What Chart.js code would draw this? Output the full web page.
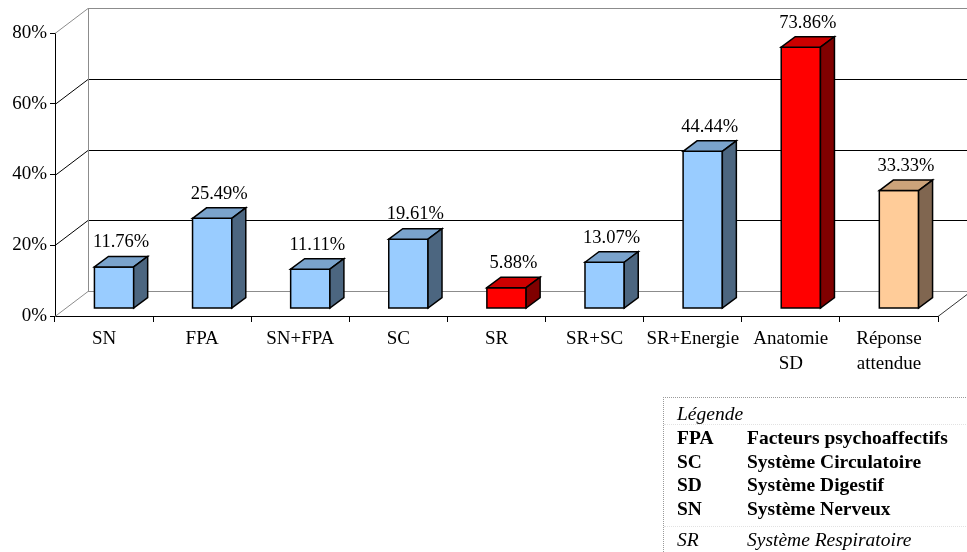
<!DOCTYPE html>
<html>
<head>
  <meta charset="utf-8">
  <title>Réponses par catégorie</title>
  <script src="https://cdn.jsdelivr.net/npm/chart.js"></script>
  <style>
    body { margin: 0; background: #fff; }
    .wrap { position: relative; width: 967px; height: 552px; overflow: hidden; }
    .legend {
      position: absolute; left: 663px; top: 397px; width: 330px; height: 170px;
      border-left: 1px dotted #9a9a9a; border-top: 1px dotted #9a9a9a;
      font-family: "Liberation Serif", "Times New Roman", serif; font-size: 19.5px; color: #000;
    }
    .legend div { position: absolute; height: 24px; line-height: 24px; white-space: nowrap; }
    .legend .b { font-weight: bold; }
    .legend .i { font-style: italic; }
    .legend .sep { height: 0; border-top: 1px dotted #e2e2e2; left: 0; width: 330px; }
  </style>
</head>
<body>
  <div class="wrap">
    <canvas id="chart"></canvas>
    <div class="legend">
      <div class="i" style="left:13px;top:4px">Légende</div>
      <div class="sep" style="top:26px"></div>
      <div class="b" style="left:13px;top:27.5px">FPA</div>
      <div class="b" style="left:83px;top:27.5px">Facteurs psychoaffectifs</div>
      <div class="b" style="left:13px;top:51.5px">SC</div>
      <div class="b" style="left:83px;top:51.5px">Système Circulatoire</div>
      <div class="b" style="left:13px;top:75px">SD</div>
      <div class="b" style="left:83px;top:75px">Système Digestif</div>
      <div class="b" style="left:13px;top:98.5px">SN</div>
      <div class="b" style="left:83px;top:98.5px">Système Nerveux</div>
      <div class="sep" style="top:128px"></div>
      <div class="i" style="left:13px;top:130px">SR</div>
      <div class="i" style="left:83px;top:130px">Système Respiratoire</div>
    </div>
  </div>

  <script>
    // data
    const categories = ['SN', 'FPA', 'SN+FPA', 'SC', 'SR', 'SR+SC', 'SR+Energie', ['Anatomie', 'SD'], ['Réponse', 'attendue']];
    const percentages = [11.76, 25.49, 11.11, 19.61, 5.88, 13.07, 44.44, 73.86, 33.33];
    const yTicks = [0, 20, 40, 60, 80];

    // front / top / side colours of each bar
    const blue = ['#99CCFF', '#7AA3CC', '#4C6680'];
    const red = ['#FF0000', '#CC0000', '#800000'];
    const peach = ['#FFCC99', '#CCA37A', '#806650'];
    const barColors = [blue, blue, blue, blue, red, blue, blue, red, peach];

    const FONT = '"Liberation Serif", "Times New Roman", serif';

    // 3d look: offset of the back wall, and of the bars inside the depth
    const WALL_DX = 33, WALL_DY = -25;
    const BAR_DX = 10, BAR_DY = -7.5;
    const DEPTH_DX = 14, DEPTH_DY = -10.5;

    function line(ctx, x1, y1, x2, y2, color) {
      ctx.strokeStyle = color;
      ctx.beginPath();
      ctx.moveTo(x1, y1);
      ctx.lineTo(x2, y2);
      ctx.stroke();
    }

    const wallPlugin = {
      id: 'wall',
      beforeDatasetsDraw(chart) {
        const ctx = chart.ctx;
        const area = chart.chartArea;
        const y = chart.scales.y;
        ctx.save();
        ctx.lineWidth = 1;
        yTicks.forEach((v) => {
          const py = Math.round(y.getPixelForValue(v)) + 0.5;
          const edge = (v === yTicks[0] || v === yTicks[yTicks.length - 1]);
          const col = edge ? '#8c8c8c' : '#000';
          // side wall diagonal
          line(ctx, area.left, py, area.left + WALL_DX, py + WALL_DY, col);
          // back wall line
          line(ctx, area.left + WALL_DX, py + WALL_DY, area.right + WALL_DX, py + WALL_DY, col);
        });
        const top = Math.round(y.getPixelForValue(yTicks[yTicks.length - 1])) + 0.5;
        const bottom = Math.round(y.getPixelForValue(0)) + 0.5;
        line(ctx, area.left + WALL_DX + 0.5, top + WALL_DY, area.left + WALL_DX + 0.5, bottom + WALL_DY, '#8c8c8c');
        // right edge of the floor
        line(ctx, area.right, bottom, area.right + WALL_DX, bottom + WALL_DY, '#333');
        ctx.restore();
      }
    };

    const boxPlugin = {
      id: 'boxes',
      afterDatasetsDraw(chart) {
        const ctx = chart.ctx;
        const meta = chart.getDatasetMeta(0);
        ctx.save();
        ctx.lineWidth = 1.5;
        ctx.strokeStyle = '#000';
        ctx.lineJoin = 'miter';
        meta.data.forEach((el, i) => {
          const p = el.getProps(['x', 'y', 'base', 'width'], true);
          const c = barColors[i];
          const x1 = p.x - p.width / 2 + BAR_DX;
          const x2 = p.x + p.width / 2 + BAR_DX;
          const yt = p.y + BAR_DY;
          const yb = p.base + BAR_DY;

          // front
          ctx.fillStyle = c[0];
          ctx.beginPath();
          ctx.rect(x1, yt, x2 - x1, yb - yt);
          ctx.fill();
          ctx.stroke();
          // top
          ctx.fillStyle = c[1];
          ctx.beginPath();
          ctx.moveTo(x1, yt);
          ctx.lineTo(x1 + DEPTH_DX, yt + DEPTH_DY);
          ctx.lineTo(x2 + DEPTH_DX, yt + DEPTH_DY);
          ctx.lineTo(x2, yt);
          ctx.closePath();
          ctx.fill();
          ctx.stroke();
          // side
          ctx.fillStyle = c[2];
          ctx.beginPath();
          ctx.moveTo(x2, yt);
          ctx.lineTo(x2 + DEPTH_DX, yt + DEPTH_DY);
          ctx.lineTo(x2 + DEPTH_DX, yb + DEPTH_DY);
          ctx.lineTo(x2, yb);
          ctx.closePath();
          ctx.fill();
          ctx.stroke();

          // value label
          ctx.fillStyle = '#000';
          ctx.font = '18.5px ' + FONT;
          ctx.textAlign = 'center';
          ctx.textBaseline = 'middle';
          ctx.fillText(percentages[i].toFixed(2) + '%', (x1 + x2) / 2 + 7, yt + DEPTH_DY - 14);
        });
        ctx.restore();
      }
    };

    new Chart(document.getElementById('chart'), {
      type: 'bar',
      data: {
        labels: categories,
        datasets: [{
          data: percentages,
          backgroundColor: 'rgba(0,0,0,0)',
          borderWidth: 0,
          categoryPercentage: 1,
          barPercentage: 0.4,
        }],
      },
      options: {
        responsive: true,
        maintainAspectRatio: false,
        animation: false,
        devicePixelRatio: 1,
        layout: { padding: { top: 33, right: 29, bottom: 0, left: 0 } },
        plugins: { legend: { display: false }, tooltip: { enabled: false } },
        scales: {
          x: {
            afterFit: (s) => { s.height = 236; },
            grid: { offset: true, drawOnChartArea: false, tickLength: 6, color: '#000' },
            border: { display: true, color: '#000', width: 1 },
            ticks: {
              color: '#000', padding: 4, maxRotation: 0, autoSkip: false,
              font: { family: FONT, size: 19, lineHeight: 1.35 },
            },
          },
          y: {
            min: 0,
            max: 80,
            afterFit: (s) => { s.width = 55; },
            grid: { drawOnChartArea: false, tickLength: 5, color: '#000' },
            border: { display: true, color: '#000', width: 1 },
            ticks: {
              stepSize: 20, color: '#000', padding: 3,
              font: { family: FONT, size: 19 },
              callback: (v) => v + '%',
            },
          },
        },
      },
      plugins: [wallPlugin, boxPlugin],
    });
  </script>
</body>
</html>
